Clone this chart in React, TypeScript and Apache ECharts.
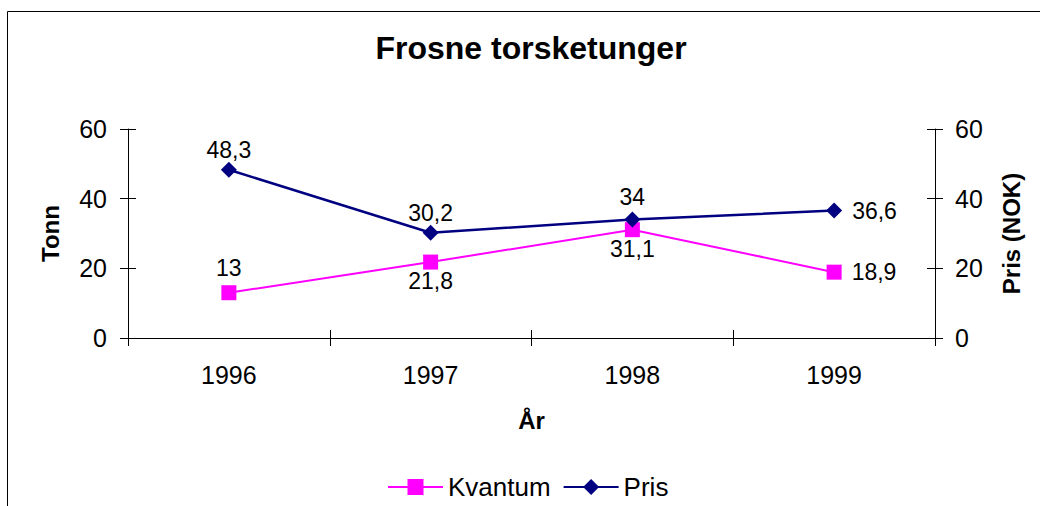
import React, { useEffect, useRef } from "react";
import * as echarts from "echarts";

const categories = ["1996", "1997", "1998", "1999"];
const kvantum = [13, 21.8, 31.1, 18.9];
const pris = [48.3, 30.2, 34, 36.6];
const yTicks = { min: 0, max: 60, interval: 20 };

const FONT = "Liberation Sans, Arial, sans-serif";

export default function App() {
  const ref = useRef<HTMLDivElement>(null);
  useEffect(() => {
    if (!ref.current) return;
    const chart = echarts.init(ref.current, null, { renderer: "svg" });
    const fmt = (p: any) => String(p.value).replace(".", ",");
    const kvPos = ["top", "bottom", "bottom", "right"];
    const kvDist = [6, 0, 0, 10];
    const prPos = ["top", "top", "top", "right"];
    const prDist = [0, 0, 3, 10];
    const tickLabel = { fontFamily: FONT, fontSize: 25, color: "#000" };
    const baseY = {
      type: "value" as const,
      min: yTicks.min,
      max: yTicks.max,
      interval: yTicks.interval,
      splitLine: { show: false },
    };
    chart.setOption({
      animation: false,
      backgroundColor: "#fff",
      textStyle: { fontFamily: FONT },
      title: {
        text: "Frosne torsketunger",
        left: 531,
        top: 32,
        textAlign: "center",
        padding: 0,
        textStyle: { fontFamily: FONT, fontSize: 32, fontWeight: "bold", color: "#000" },
      },
      legend: {
        left: 387,
        top: 474,
        padding: 0,
        itemWidth: 55,
        itemHeight: 20,
        itemGap: 12,
        textStyle: { fontFamily: FONT, fontSize: 26, color: "#000" },
        data: ["Kvantum", "Pris"],
      },
      grid: { left: 128, right: 105, top: 129, bottom: 168 },
      xAxis: [
        {
          type: "category",
          data: categories,
          boundaryGap: true,
          name: "År",
          nameLocation: "middle",
          nameGap: 70,
          nameTextStyle: { fontFamily: FONT, fontSize: 24, fontWeight: "bold", color: "#000" },
          axisLine: { lineStyle: { color: "#000", width: 1 } },
          axisTick: { show: true, inside: false, length: 8, lineStyle: { color: "#000" } },
          axisLabel: { ...tickLabel, margin: 24 },
        },
        {
          type: "category",
          data: categories,
          position: "bottom",
          boundaryGap: true,
          axisLine: { show: false },
          axisTick: { show: true, inside: true, length: 8, lineStyle: { color: "#000" } },
          axisLabel: { show: false },
        },
      ],
      yAxis: [
        {
          ...baseY,
          position: "left",
          name: "Tonn",
          nameLocation: "middle",
          nameGap: 66,
          nameTextStyle: { fontFamily: FONT, fontSize: 24, fontWeight: "bold", color: "#000" },
          axisLine: { show: true, lineStyle: { color: "#000", width: 1 } },
          axisTick: { show: true, inside: false, length: 8, lineStyle: { color: "#000" } },
          axisLabel: { ...tickLabel, margin: 21 },
        },
        {
          ...baseY,
          position: "right",
          name: "Pris (NOK)",
          nameLocation: "middle",
          nameGap: 64,
          nameTextStyle: { fontFamily: FONT, fontSize: 24, fontWeight: "bold", color: "#000" },
          axisLine: { show: true, lineStyle: { color: "#000", width: 1 } },
          axisTick: { show: true, inside: false, length: 8, lineStyle: { color: "#000" } },
          axisLabel: { ...tickLabel, margin: 20 },
        },
        {
          ...baseY,
          position: "left",
          axisLine: { show: false },
          axisTick: { show: true, inside: true, length: 8, lineStyle: { color: "#000" } },
          axisLabel: { show: false },
        },
        {
          ...baseY,
          position: "right",
          axisLine: { show: false },
          axisTick: { show: true, inside: true, length: 8, lineStyle: { color: "#000" } },
          axisLabel: { show: false },
        },
      ],
      series: [
        {
          name: "Kvantum",
          type: "line",
          yAxisIndex: 0,
          data: kvantum.map((v, i) => ({
            value: v,
            label: { position: kvPos[i], distance: kvDist[i] },
          })),
          symbol: "rect",
          symbolSize: 15,
          itemStyle: { color: "#FF00FF" },
          lineStyle: { color: "#FF00FF", width: 2 },
          label: {
            show: true,
            formatter: fmt,
            fontFamily: FONT,
            fontSize: 23,
            color: "#000",
          },
          z: 3,
        },
        {
          name: "Pris",
          type: "line",
          yAxisIndex: 1,
          data: pris.map((v, i) => ({
            value: v,
            label: { position: prPos[i], distance: prDist[i] },
          })),
          symbol: "diamond",
          symbolSize: 16,
          itemStyle: { color: "#000080" },
          lineStyle: { color: "#000080", width: 2.5 },
          label: {
            show: true,
            formatter: fmt,
            fontFamily: FONT,
            fontSize: 23,
            color: "#000",
          },
          z: 4,
        },
      ],
      graphic: [
        {
          type: "rect",
          shape: { x: 7.5, y: 11.5, width: 1100, height: 600 },
          style: { fill: "none", stroke: "#000", lineWidth: 1 },
          silent: true,
        },
      ],
    });
    return () => chart.dispose();
  }, []);
  return (
    <div
      ref={ref}
      style={{ position: "fixed", left: 0, top: 0, width: 1040, height: 506 }}
    />
  );
}
